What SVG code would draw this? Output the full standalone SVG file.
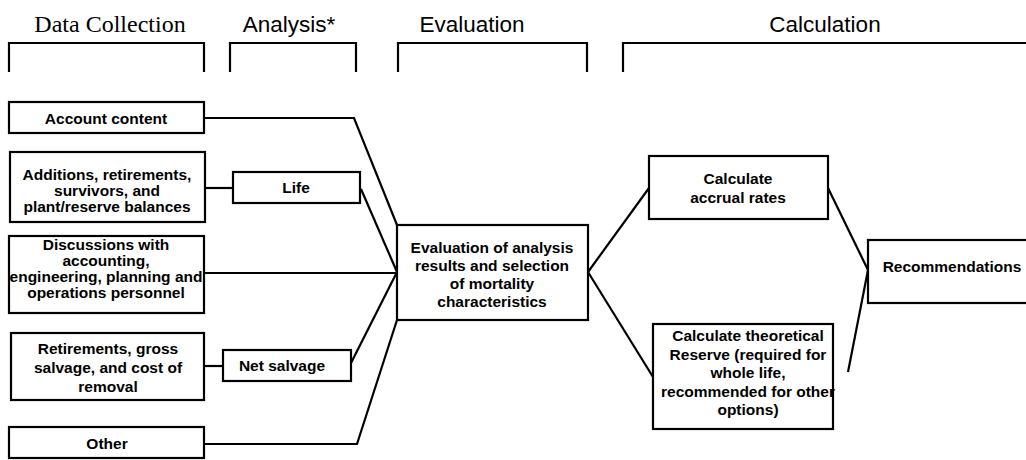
<svg xmlns="http://www.w3.org/2000/svg" width="1026" height="460" viewBox="0 0 1026 460">
<style>
.box{fill:#fff;stroke:#000;stroke-width:2.2}
.br{fill:none;stroke:#000;stroke-width:2.2}
.c{fill:none;stroke:#000;stroke-width:2.2;stroke-linejoin:miter}
.t{font-family:"Liberation Sans",Arial,sans-serif;font-weight:bold;font-size:15.5px;text-anchor:middle;fill:#000}
.h{font-family:"Liberation Sans",Arial,sans-serif;font-size:22.5px;text-anchor:middle;fill:#000}
.hs{font-family:"Liberation Serif","Times New Roman",serif;font-size:24px;text-anchor:middle;fill:#000}
</style>
<rect width="1026" height="460" fill="#fff"/>
<g id="headers">
<text class="hs" x="110" y="32">Data Collection</text>
<text class="h" x="289" y="32">Analysis*</text>
<text class="h" x="472" y="32">Evaluation</text>
<text class="h" x="825" y="32">Calculation</text>
<path class="br" d="M9,72 V43 H204 V72"/>
<path class="br" d="M230,72 V43 H356 V72"/>
<path class="br" d="M398,72 V43 H587 V72"/>
<path class="br" d="M623,72 V43 H1030"/>
</g>
<g id="connectors">
<path class="c" d="M204,118 H354 L397,225"/>
<path class="c" d="M205,188 H233"/>
<path class="c" d="M361,189 L397,272"/>
<path class="c" d="M204,273 H397"/>
<path class="c" d="M351,363 L397,272"/>
<path class="c" d="M204,366 H223"/>
<path class="c" d="M204,444 H357 L397,320"/>
<path class="c" d="M588,272 L649,188"/>
<path class="c" d="M588,272 L653,377"/>
<path class="c" d="M828,188 L868,270"/>
<path class="c" d="M868,270 L848,372"/>
</g>
<g id="account">
<rect class="box" x="9" y="102" width="195" height="31"/>
<text class="t" x="106" y="124">Account content</text>
</g>
<g id="additions">
<rect class="box" x="10" y="152" width="195" height="70"/>
<text class="t" x="107" y="180">Additions, retirements,</text>
<text class="t" x="107" y="196">survivors, and</text>
<text class="t" x="107" y="212">plant/reserve balances</text>
</g>
<g id="life">
<rect class="box" x="233" y="172" width="127" height="31"/>
<text class="t" x="296" y="193">Life</text>
</g>
<g id="discussions">
<rect class="box" x="9" y="236" width="195" height="77"/>
<text class="t" x="106" y="250">Discussions with</text>
<text class="t" x="106" y="266">accounting,</text>
<text class="t" x="106" y="282">engineering, planning and</text>
<text class="t" x="106" y="298">operations personnel</text>
</g>
<g id="retirements">
<rect class="box" x="11" y="333" width="193" height="67"/>
<text class="t" x="108" y="354">Retirements, gross</text>
<text class="t" x="108" y="373">salvage,  and cost of</text>
<text class="t" x="108" y="392">removal</text>
</g>
<g id="netsalvage">
<rect class="box" x="223" y="350" width="128" height="31"/>
<text class="t" x="282" y="371">Net salvage</text>
</g>
<g id="other">
<rect class="box" x="9" y="427" width="195" height="31"/>
<text class="t" x="107" y="449">Other</text>
</g>
<g id="evaluation">
<rect class="box" x="397" y="225" width="191" height="95"/>
<text class="t" x="492" y="253">Evaluation of analysis</text>
<text class="t" x="492" y="271">results and selection</text>
<text class="t" x="492" y="289">of mortality</text>
<text class="t" x="492" y="307">characteristics</text>
</g>
<g id="accrual">
<rect class="box" x="649" y="156" width="179" height="63"/>
<text class="t" x="738" y="184">Calculate</text>
<text class="t" x="738" y="203">accrual rates</text>
</g>
<g id="reserve">
<rect class="box" x="653" y="324" width="180" height="105"/>
<text class="t" x="748" y="341">Calculate theoretical</text>
<text class="t" x="748" y="360">Reserve (required for</text>
<text class="t" x="748" y="378">whole life,</text>
<text class="t" x="748" y="397">recommended for other</text>
<text class="t" x="748" y="415">options)</text>
</g>
<g id="recommendations">
<rect class="box" x="868" y="240" width="170" height="63"/>
<text class="t" x="952" y="272">Recommendations</text>
</g>
</svg>
